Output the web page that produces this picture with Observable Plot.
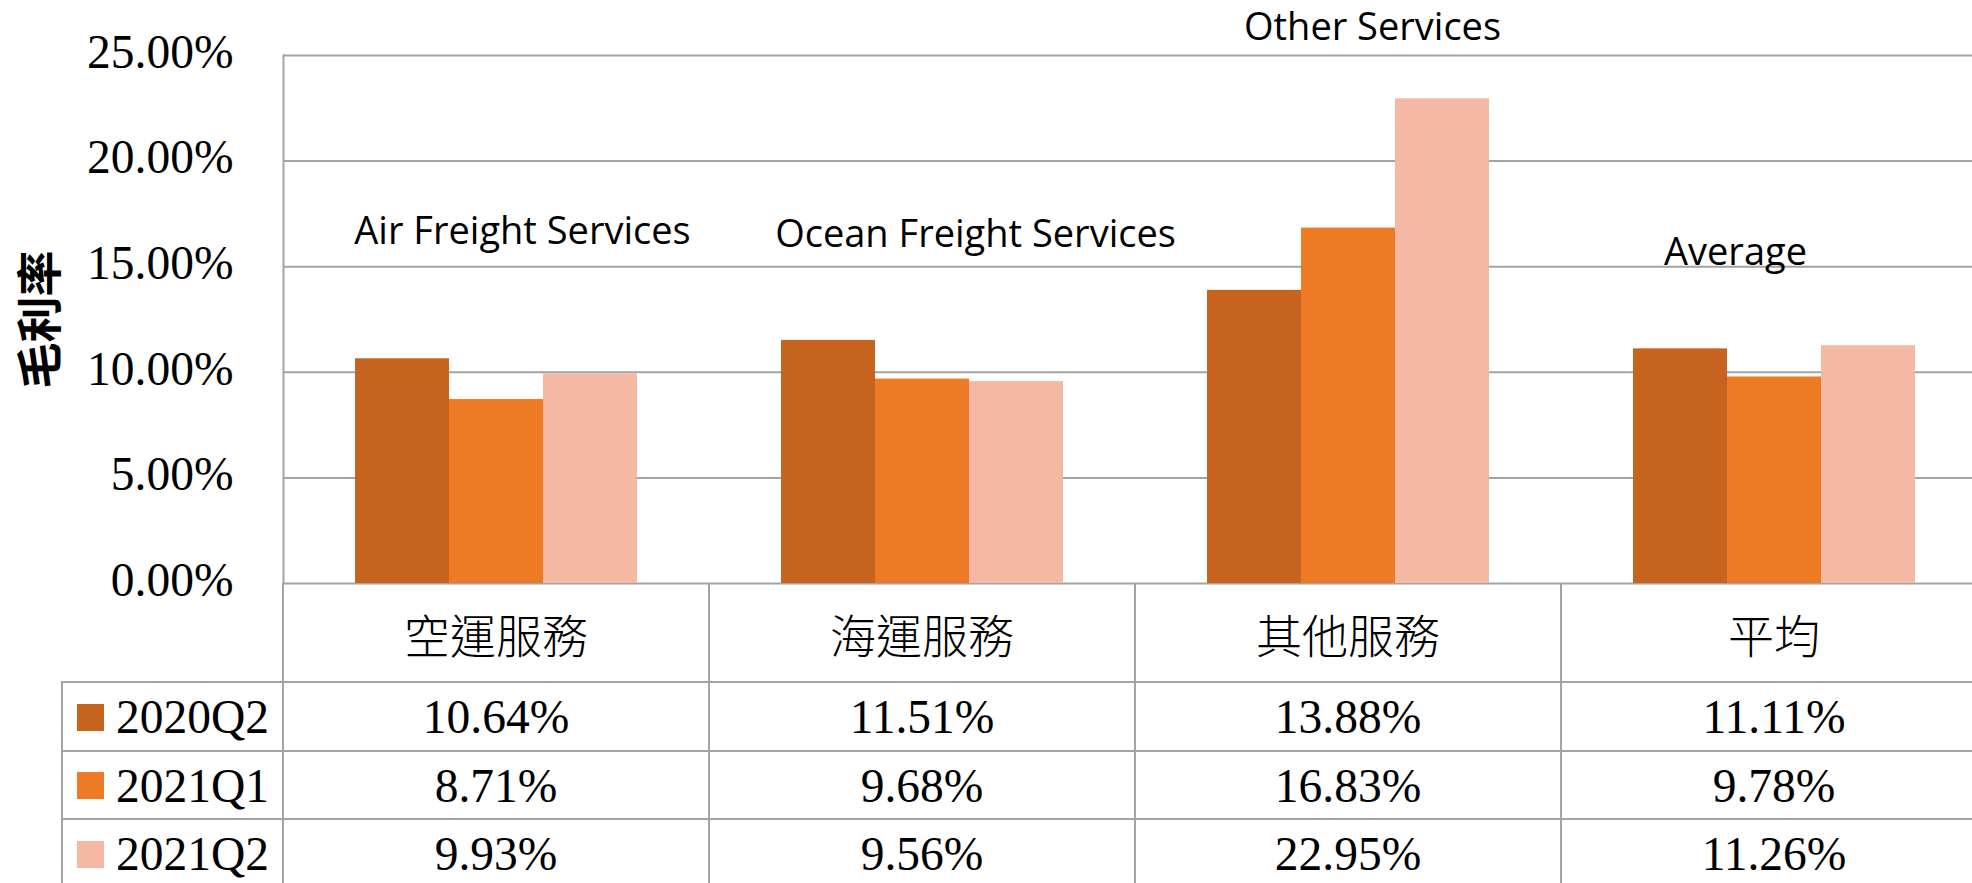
<!DOCTYPE html>
<html>
<head>
<meta charset="utf-8">
<script src="https://cdn.jsdelivr.net/npm/d3@7"></script>
<script src="https://cdn.jsdelivr.net/npm/@observablehq/plot@0.6"></script>
<style>
  html, body { margin: 0; padding: 0; background: #fff; overflow: hidden; width: 1972px; height: 883px; }
  #wrap { position: relative; width: 1972px; height: 883px; overflow: hidden; background: #fff; }
  #wrap svg { position: absolute; left: 0; top: 0; display: block; }
  .cell { position: absolute; box-sizing: border-box; display: flex; align-items: center; justify-content: center;
          color: #000; border-color: #a3a3a3; border-style: solid; border-width: 0; white-space: nowrap; }
  .cat { font-family: "Noto Sans CJK TC", "Noto Sans CJK SC", sans-serif; font-size: 46px; font-weight: 300; }
  .val { font-family: "Liberation Serif", serif; font-size: 47.5px; }
  .leg { justify-content: flex-start; padding-left: 14px; font-family: "Liberation Serif", serif; font-size: 47.5px; }
  .sw { width: 27px; height: 27px; margin-right: 12px; flex: none; }
</style>
</head>
<body>
<div id="wrap"></div>
<script>
// ---- data ----
const categories = ["空運服務", "海運服務", "其他服務", "平均"];
const annotationLabels = ["Air Freight Services", "Ocean Freight Services", "Other Services", "Average"];
const series = ["2020Q2", "2021Q1", "2021Q2"];
const values2020Q2 = [10.64, 11.51, 13.88, 11.11];
const values2021Q1 = [8.71, 9.68, 16.83, 9.78];
const values2021Q2 = [9.93, 9.56, 22.95, 11.26];
const seriesColors = ["#c5631f", "#ed7b25", "#f4b8a4"];
const yTicks = [0, 5, 10, 15, 20, 25];
const yLabel = "毛利率";

// ---- build table ----
const seriesValues = [values2020Q2, values2021Q1, values2021Q2];
const rows = [];
series.forEach((s, i) => categories.forEach((c, j) => rows.push({series: s, category: c, value: seriesValues[i][j] / 100})));

// annotation placement (y in data units, horizontal offset in px)
const annPlace = [
  {y: 16.63, dx: 26},
  {y: 16.53, dx: 53},
  {y: 26.29, dx: 24},
  {y: 15.68, dx: -39}
];
const gridColor = "#a3a3a3";

const annMarks = categories.map((c, i) =>
  Plot.text([{category: c, label: annotationLabels[i], y: annPlace[i].y / 100}], {
    fx: "category", y: "y", text: "label", dx: annPlace[i].dx,
    fontSize: 38, fontFamily: "Open Sans", fill: "#000"
  })
);

const chart = Plot.plot({
  width: 1988,
  height: 585,
  marginLeft: 282,
  marginRight: 0,
  marginTop: 55,
  marginBottom: 2,
  style: {maxWidth: "none", overflow: "visible", background: "transparent"},
  fx: {domain: categories, padding: 0, axis: null},
  x: {domain: series, paddingInner: 0, paddingOuter: 0.75, axis: null},
  y: {domain: [0, 0.25], axis: null},
  color: {domain: series, range: seriesColors},
  marks: [
    Plot.ruleY(yTicks.map(d => d / 100), {stroke: gridColor, strokeWidth: 2}),
    Plot.frame({anchor: "left", facetAnchor: "left", stroke: gridColor, strokeWidth: 2}),
    Plot.barY(rows, {fx: "category", x: "series", y: "value", fill: "series"}),
    Plot.axisY(yTicks.map(d => d / 100), {
      tickFormat: ".2%", tickSize: 0, tickPadding: 50, fontSize: 47.5,
      fontFamily: "Liberation Serif", fill: "#000", dy: -3, label: null
    }),
    Plot.text([yLabel], {
      frameAnchor: "left", facetAnchor: "left", dx: -242, dy: 69, rotate: -90,
      fontSize: 46, fontWeight: "bold", fontFamily: "Noto Sans CJK TC", fill: "#000"
    }),
    ...annMarks
  ]
});

const wrap = d3.select("#wrap");
wrap.node().appendChild(chart);

// ---- data table below the chart, aligned to the fx scale ----
const fx = chart.scale("fx");
const bw = fx.bandwidth;
const tableTop = 583;     // chart baseline
const catRowH = 99;
const rowH = 68.5;
const legendLeft = 62;
const firstX = fx.apply(categories[0]);

// category header row
categories.forEach(c => {
  wrap.append("div").attr("class", "cell cat")
    .style("left", (fx.apply(c) - 1) + "px").style("top", tableTop + "px")
    .style("width", bw + "px").style("height", catRowH + "px")
    .style("border-left-width", "2px")
    .text(c);
});

// data rows
series.forEach((s, i) => {
  const top = tableTop + catRowH + i * rowH - 1;
  const leg = wrap.append("div").attr("class", "cell leg")
    .style("left", (legendLeft - 1) + "px").style("top", top + "px")
    .style("width", (firstX - legendLeft) + "px").style("height", (rowH + 2) + "px")
    .style("border-left-width", "2px").style("border-top-width", "2px");
  leg.append("div").attr("class", "sw").style("background", seriesColors[i]);
  leg.append("span").text(s);
  categories.forEach((c, j) => {
    wrap.append("div").attr("class", "cell val")
      .style("left", (fx.apply(c) - 1) + "px").style("top", top + "px")
      .style("width", bw + "px").style("height", (rowH + 2) + "px")
      .style("border-left-width", "2px").style("border-top-width", "2px")
      .text(d3.format(".2%")(seriesValues[i][j] / 100));
  });
});
</script>
</body>
</html>
